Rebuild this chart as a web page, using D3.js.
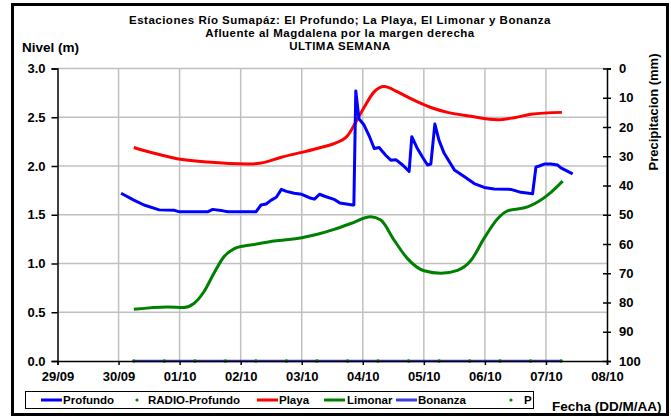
<!DOCTYPE html>
<html>
<head>
<meta charset="utf-8">
<script src="https://d3js.org/d3.v7.min.js"></script>
<style>
body { margin: 0; background: #fff; }
text { font-family: "Liberation Sans", Arial, sans-serif; font-weight: bold; }
</style>
</head>
<body>
<div id="main"></div>
<script>
// fechas de los ejes
var dayTicks = ["29/09", "30/09", "01/10", "02/10", "03/10", "04/10", "05/10", "06/10", "07/10", "08/10"];
var nivelTicks = [0, 0.5, 1.0, 1.5, 2.0, 2.5, 3.0];
var precTicks = [0, 10, 20, 30, 40, 50, 60, 70, 80, 90, 100];

// Profundo (nivel m)
var profundoT = ["30/09 01:00", "30/09 06:00", "30/09 10:00", "30/09 16:00", "30/09 22:00", "01/10 00:00", "01/10 11:00", "01/10 13:00", "01/10 17:00", "01/10 19:00",
  "02/10 06:00", "02/10 08:00", "02/10 10:00", "02/10 12:00", "02/10 14:00", "02/10 16:00", "02/10 18:00", "02/10 21:00", "03/10 00:00", "03/10 03:00",
  "03/10 05:00", "03/10 07:00", "03/10 09:00", "03/10 13:00", "03/10 15:00", "03/10 20:00", "03/10 20:30", "03/10 21:15", "03/10 22:30", "04/10 00:30",
  "04/10 02:30", "04/10 04:30", "04/10 06:25", "04/10 09:00", "04/10 11:00", "04/10 13:00", "04/10 15:40", "04/10 18:13", "04/10 19:16", "04/10 21:15",
  "04/10 23:30", "05/10 01:27", "05/10 02:45", "05/10 04:20", "05/10 06:00", "05/10 08:00", "05/10 12:00", "05/10 16:00", "05/10 19:48", "05/10 23:44",
  "06/10 03:40", "06/10 10:13", "06/10 14:10", "06/10 18:45", "06/10 20:04", "06/10 21:22", "06/10 23:20", "07/10 01:58", "07/10 04:36", "07/10 05:54", "07/10 10:30"];
var profundoV = [1.72, 1.65, 1.60, 1.55, 1.545, 1.53, 1.53, 1.555, 1.54, 1.53,
  1.53, 1.60, 1.61, 1.65, 1.68, 1.76, 1.74, 1.72, 1.71, 1.675,
  1.66, 1.71, 1.69, 1.655, 1.62, 1.60, 1.60, 2.77, 2.485, 2.42,
  2.31, 2.18, 2.19, 2.11, 2.06, 2.065, 2.01, 1.945, 2.30, 2.19,
  2.09, 2.01, 2.02, 2.43, 2.26, 2.13, 1.96, 1.89, 1.82, 1.78,
  1.765, 1.76, 1.73, 1.715, 1.99, 2.00, 2.02, 2.02, 2.01, 1.98, 1.92];

// Playa
var playaT = ["30/09 06:00", "30/09 14:00", "30/09 23:00", "01/10 11:00", "02/10 02:40", "02/10 08:00", "02/10 16:00", "03/10 00:00", "03/10 07:30", "03/10 12:43",
  "03/10 18:00", "03/10 21:15", "04/10 00:30", "04/10 04:27", "04/10 08:23", "04/10 13:40", "04/10 18:53", "05/10 02:45", "05/10 09:20", "05/10 18:29",
  "06/10 05:00", "06/10 11:31", "06/10 18:06", "07/10 06:17"];
var playaV = [2.19, 2.13, 2.075, 2.04, 2.02, 2.03, 2.09, 2.14, 2.19, 2.23,
  2.31, 2.45, 2.60, 2.76, 2.815, 2.76, 2.69, 2.60, 2.55, 2.51,
  2.475, 2.495, 2.53, 2.55];

// Limonar
var limonarT = ["30/09 06:00", "30/09 19:09", "01/10 01:41", "01/10 05:37", "01/10 09:33", "01/10 13:29", "01/10 17:25", "01/10 21:21", "02/10 01:17", "02/10 05:14",
  "02/10 13:06", "03/10 00:00", "03/10 06:10", "03/10 12:43", "03/10 19:16", "04/10 03:09", "04/10 07:05", "04/10 12:19", "04/10 17:35", "05/10 00:07",
  "05/10 06:41", "05/10 13:15", "05/10 18:29", "05/10 23:44", "06/10 05:00", "06/10 08:56", "06/10 16:48", "06/10 20:44", "07/10 01:58", "07/10 06:34"];
var limonarV = [0.53, 0.555, 0.55, 0.59, 0.71, 0.90, 1.07, 1.15, 1.18, 1.195,
  1.23, 1.265, 1.30, 1.35, 1.41, 1.48, 1.445, 1.24, 1.05, 0.925,
  0.90, 0.93, 1.03, 1.26, 1.46, 1.54, 1.58, 1.63, 1.73, 1.845];

// Bonanza y RADIO-Profundo / P (en cero)
var puntosT = ["30/09 06:00", "30/09 18:00", "01/10 06:00", "01/10 18:00", "02/10 06:00", "02/10 18:00", "03/10 06:00", "03/10 18:00",
  "04/10 06:00", "04/10 18:00", "05/10 06:00", "05/10 18:00", "06/10 06:00", "06/10 18:00", "07/10 06:00"];
var bonanzaV = [0, 0, 0, 0, 0, 0, 0, 0, 0, 0, 0, 0, 0, 0, 0];
var radioV = [0, 0, 0, 0, 0, 0, 0, 0, 0, 0, 0, 0, 0, 0, 0];

var parse = d3.timeParse("%d/%m/%Y %H:%M");
function fecha(s) { var p = s.split(" "); return parse(p[0] + "/2013 " + p[1]); }
function serie(ts, vs) { return ts.map(function(t, i) { return {t: fecha(t), v: vs[i]}; }); }

var width = 671, height = 417;
var pLeft = 57.5, pRight = 607, pTop = 68.5, pBottom = 361;

var svg = d3.select("#main").append("svg")
    .attr("width", width)
    .attr("height", height);

svg.append("rect")
    .attr("x", 12.5).attr("y", 4.5)
    .attr("width", 655).attr("height", 410)
    .attr("fill", "#fff").attr("stroke", "#000").attr("stroke-width", 3);

var x = d3.scaleTime()
    .domain([fecha("29/09 00:00"), fecha("08/10 00:00")])
    .range([pLeft, pRight]);
var y = d3.scaleLinear().domain([0, 3]).range([pBottom, pTop]);
var yr = d3.scaleLinear().domain([0, 100]).range([pTop, pBottom]);

// grid
svg.append("g").selectAll("line")
    .data(dayTicks.slice(1, -1))
  .enter().append("line")
    .attr("x1", function(d) { return x(fecha(d + " 00:00")); })
    .attr("x2", function(d) { return x(fecha(d + " 00:00")); })
    .attr("y1", pTop).attr("y2", pBottom)
    .attr("stroke", "#c0c0c0").attr("stroke-width", 1.5);
svg.append("g").selectAll("line")
    .data(nivelTicks.slice(1))
  .enter().append("line")
    .attr("x1", pLeft).attr("x2", pRight)
    .attr("y1", function(d) { return y(d); })
    .attr("y2", function(d) { return y(d); })
    .attr("stroke", "#c0c0c0").attr("stroke-width", 1.5);

// series
var lineNivel = d3.line()
    .x(function(d) { return x(d.t); })
    .y(function(d) { return y(d.v); });

svg.append("path")
    .datum(serie(puntosT, bonanzaV))
    .attr("d", lineNivel)
    .attr("fill", "none").attr("stroke", "#3c3cdc").attr("stroke-width", 2.5);

svg.append("path")
    .datum(serie(limonarT, limonarV))
    .attr("d", lineNivel.curve(d3.curveMonotoneX))
    .attr("fill", "none").attr("stroke", "#008000").attr("stroke-width", 3);

svg.append("path")
    .datum(serie(playaT, playaV))
    .attr("d", lineNivel.curve(d3.curveMonotoneX))
    .attr("fill", "none").attr("stroke", "#ff0000").attr("stroke-width", 3);

svg.append("path")
    .datum(serie(profundoT, profundoV))
    .attr("d", lineNivel.curve(d3.curveLinear))
    .attr("fill", "none").attr("stroke", "#0000ff").attr("stroke-width", 3)
    .attr("stroke-linejoin", "round");

svg.append("g").selectAll("circle")
    .data(serie(puntosT, radioV))
  .enter().append("circle")
    .attr("cx", function(d) { return x(d.t); })
    .attr("cy", function(d) { return y(d.v); })
    .attr("r", 1.8)
    .attr("fill", "#008000");

// axes
var axL = svg.append("g")
    .attr("transform", "translate(" + pLeft + ",0)")
    .call(d3.axisLeft(y).tickValues(nivelTicks).tickFormat(d3.format(".1f")).tickSize(6).tickPadding(6));
var axR = svg.append("g")
    .attr("transform", "translate(" + pRight + ",0)")
    .call(d3.axisRight(yr).tickValues(precTicks).tickSize(4).tickPadding(8));
axR.selectAll(".tick line").attr("x1", -4);
var axB = svg.append("g")
    .attr("transform", "translate(0," + pBottom + ")")
    .call(d3.axisBottom(x).tickValues(dayTicks.map(function(d) { return fecha(d + " 00:00"); }))
      .tickFormat(d3.timeFormat("%d/%m")).tickSize(4).tickPadding(7));

[axL, axR, axB].forEach(function(a) {
  a.selectAll("path").attr("stroke", "#000").attr("stroke-width", 1.5);
  a.selectAll("line").attr("stroke", "#000").attr("stroke-width", 1.5);
  a.selectAll("text").attr("fill", "#000").style("font-size", "13px").style("font-weight", "bold");
});

// titulos
var titulo = ["Estaciones Río Sumapáz: El Profundo; La Playa, El Limonar y Bonanza",
  "Afluente al Magdalena por la margen derecha", "ULTIMA SEMANA"];
svg.append("g").selectAll("text")
    .data(titulo)
  .enter().append("text")
    .attr("x", 340)
    .attr("y", function(d, i) { return 24 + i * 13.2; })
    .attr("text-anchor", "middle")
    .style("font-size", "11.5px")
    .style("letter-spacing", "0.5px")
    .text(function(d) { return d; });

svg.append("text").attr("x", 22).attr("y", 51.5).style("font-size", "13.5px").text("Nivel (m)");
svg.append("text")
    .attr("transform", "translate(653,112) rotate(-90)")
    .attr("dy", "0.35em")
    .attr("text-anchor", "middle")
    .style("font-size", "13px")
    .text("Precipitacion (mm)");
svg.append("text").attr("x", 552).attr("y", 411).style("font-size", "13.5px").text("Fecha (DD/M/AA)");

// leyenda
svg.append("rect")
    .attr("x", 25.5).attr("y", 391.5).attr("width", 508).attr("height", 17)
    .attr("fill", "#fff").attr("stroke", "#000").attr("stroke-width", 1);

var leyenda = [
  {n: "Profundo", c: "#0000ff", tipo: "l", x0: 41, tx: 63},
  {n: "RADIO-Profundo", c: "#008000", tipo: "p", x0: 137, tx: 148},
  {n: "Playa", c: "#ff0000", tipo: "l", x0: 257, tx: 279},
  {n: "Limonar", c: "#008000", tipo: "l", x0: 324, tx: 347},
  {n: "Bonanza", c: "#3c3cdc", tipo: "l", x0: 396, tx: 418},
  {n: "P", c: "#008000", tipo: "p", x0: 511, tx: 524}
];
var lg = svg.append("g").selectAll("g").data(leyenda).enter().append("g");
lg.filter(function(d) { return d.tipo == "l"; }).append("line")
    .attr("x1", function(d) { return d.x0; })
    .attr("x2", function(d) { return d.x0 + 21; })
    .attr("y1", 400).attr("y2", 400)
    .attr("stroke", function(d) { return d.c; }).attr("stroke-width", 3);
lg.filter(function(d) { return d.tipo == "p"; }).append("circle")
    .attr("cx", function(d) { return d.x0; })
    .attr("cy", 400).attr("r", 1.6)
    .attr("fill", function(d) { return d.c; });
lg.append("text")
    .attr("x", function(d) { return d.tx; })
    .attr("y", 404)
    .style("font-size", "11.5px")
    .text(function(d) { return d.n; });
</script>
</body>
</html>
